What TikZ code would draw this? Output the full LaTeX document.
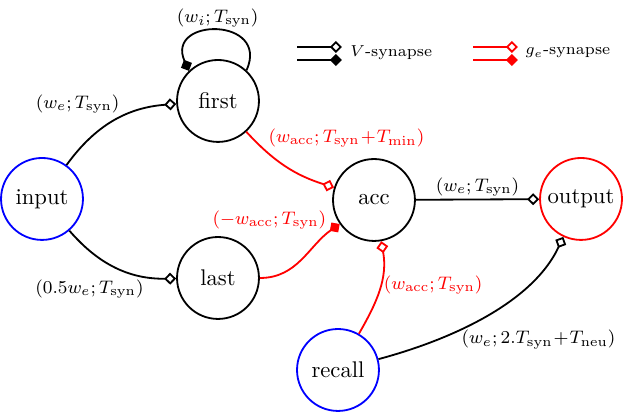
\documentclass[tikz,border=0pt]{standalone}
\usepackage{amsmath}
\usetikzlibrary{positioning,arrows.meta}
\definecolor{synred}{RGB}{255,0,0}
\definecolor{inblue}{RGB}{0,0,255}
\tikzset{
  neuron/.style={circle, draw=black, thick, minimum size=1.27cm, inner sep=0pt},
  inneuron/.style={neuron, draw=inblue},
  outneuron/.style={neuron, draw=synred},
  vexc/.style={-{Diamond[open,length=5.3pt,width=5.3pt]}, thick, draw=black},
  vinh/.style={-{Diamond[length=5.3pt,width=5.3pt]}, thick, draw=black},
  gexc/.style={-{Diamond[open,length=5.3pt,width=5.3pt]}, thick, draw=synred},
  ginh/.style={-{Diamond[length=5.3pt,width=5.3pt]}, thick, draw=synred},
  wlbl/.style={font=\footnotesize, inner sep=1pt},
  glbl/.style={wlbl, text=synred},
  legtxt/.style={font=\scriptsize, anchor=west, inner sep=0pt},
}
\newcommand{\Tsyn}{T_{\mathrm{syn}}}

\begin{document}
\begin{tikzpicture}
    \useasboundingbox (0,0) rectangle (9.657,6.386);

      % neurons
      \node[inneuron]  (input)  at (0.651,3.302) {input};
      \node[neuron]    (first)  at (3.379,4.821) {first};
      \node[neuron]    (last)   at (3.379,2.077) {last};
      \node[neuron]    (acc)    at (5.797,3.286) {acc};
      \node[outneuron] (output) at (9.006,3.302) {output};
      \node[inneuron]  (recall) at (5.239,0.651) {recall};

      % legend
      \coordinate (vA) at (4.604,5.658);
      \coordinate (vB) at (5.300,5.658);
      \coordinate (vC) at (4.604,5.456);
      \coordinate (vD) at (5.300,5.456);
      \coordinate (gA) at (7.332,5.658);
      \coordinate (gB) at (8.028,5.658);
      \coordinate (gC) at (7.332,5.456);
      \coordinate (gD) at (8.028,5.456);
      \draw[vexc] (vA) -- (vB);
      \draw[vinh] (vC) -- (vD);
      \draw[gexc] (gA) -- (gB);
      \draw[ginh] (gC) -- (gD);
      \node[legtxt] (vtxt) at (5.425,5.565) {$V$-synapse};
      \node[legtxt] (gtxt) at (8.138,5.565) {$g_e$-synapse};

      % V-synapses
      \draw[vexc] (input) to[bend left=25]
        node[wlbl, pos=0.58, anchor=south east] (l1) {$(w_e;\Tsyn)$} (first);
      \draw[vexc] (input) to[bend right=25]
        node[wlbl, pos=0.77, anchor=north east] (l2) {$(0.5w_e;\Tsyn)$} (last);
      \draw[vinh] (first.47) to[out=66, in=114, looseness=2.6]
        node[wlbl, pos=0.5, above] (l3) {$(w_i;\Tsyn)$} (first.134);
      \draw[vexc] (acc) --
        node[wlbl, above] (l4) {$(w_e;\Tsyn)$} (output);
      \draw[vexc] (recall) to[out=15, in=245, looseness=0.85]
        node[wlbl, pos=0.4, anchor=north west, xshift=-3pt] (l5) {$(w_e;2.\Tsyn\!+\!T_{\mathrm{neu}})$} (output);

      % g_e-synapses
      \draw[gexc] (first) to[bend right=15]
        node[glbl, pos=0.24, anchor=south west] (l6) {$(w_{\mathrm{acc}};\Tsyn\!+\!T_{\mathrm{min}})$} (acc);
      \draw[ginh] (last.east) to[out=0, in=215]
        node[glbl, pos=0.88, anchor=south east] (l7) {$(-w_{\mathrm{acc}};\Tsyn)$} (acc);
      \draw[gexc] (recall) to[out=60, in=-80]
        node[glbl, pos=0.55, right] (l8) {$(w_{\mathrm{acc}};\Tsyn)$} (acc);

    \end{tikzpicture}
\end{document}
